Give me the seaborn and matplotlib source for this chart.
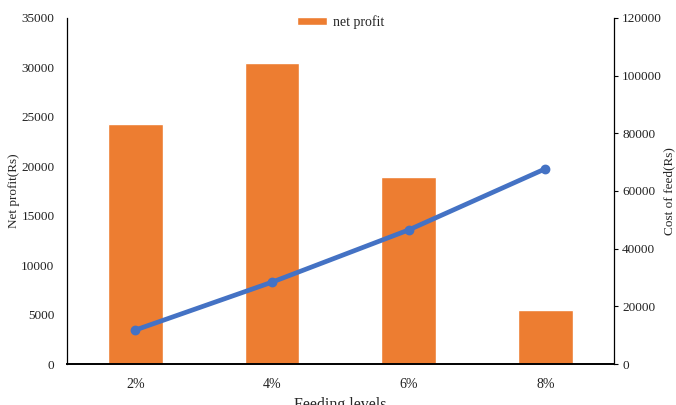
import pandas as pd
import matplotlib
matplotlib.use('Agg')
import matplotlib.pyplot as plt
import seaborn as sns

# Data
levels = ['2%', '4%', '6%', '8%']
net_profit = [24300, 30450, 18900, 5500]
feed_cost = [11800, 28400, 46500, 67700]

df = pd.DataFrame({'Feeding levels': levels, 'net profit': net_profit, 'cost': feed_cost})

sns.set_theme(style='white')
plt.rcParams['font.family'] = ['Liberation Serif', 'DejaVu Serif']

fig = plt.figure(figsize=(6.76, 4.05), dpi=100)
ax = fig.add_axes([0.099, 0.101, 0.809, 0.855])

sns.barplot(data=df, x='Feeding levels', y='net profit', color='#ED7D31',
            width=0.4, saturation=1, label='net profit', ax=ax)

ax2 = ax.twinx()
sns.pointplot(data=df, x='Feeding levels', y='cost', color='#4472C4',
              markers='o', markersize=4.5, linewidth=3.4, ax=ax2)

ax.set_xlim(-0.5, 3.5)
ax.set_ylim(0, 35000)
ax.set_yticks(range(0, 35001, 5000))
ax2.set_ylim(0, 120000)
ax2.set_yticks(range(0, 120001, 20000))

for a in (ax, ax2):
    for s in a.spines.values():
        s.set_visible(False)
ax.spines['left'].set_visible(True)
ax.spines['bottom'].set_visible(True)
ax2.spines['right'].set_visible(True)
ax.spines['left'].set_color('#000000')
ax.spines['left'].set_linewidth(0.9)
ax.spines['bottom'].set_color('#000000')
ax.spines['bottom'].set_linewidth(1.4)
ax2.spines['right'].set_color('#000000')
ax2.spines['right'].set_linewidth(0.9)

ax.tick_params(axis='y', length=0, pad=9, labelsize=9.5, colors='#222222')
ax.tick_params(axis='x', length=0, pad=10, labelsize=10, colors='#222222')
ax2.tick_params(axis='y', right=True, length=3, width=0.8,
                pad=3, labelsize=9.5, colors='#222222')
ax2.tick_params(axis='y', color='#000000')

ax.set_xlabel('Feeding levels', fontsize=11.5, labelpad=4)
ax.set_ylabel('Net profit(Rs)', fontsize=9.5, labelpad=1)
ax2.set_ylabel('Cost of feed(Rs)', fontsize=9.5, labelpad=1)

ax.legend(loc='upper center', bbox_to_anchor=(0.5, 1.045), frameon=False,
          fontsize=10, handlelength=2.2, handleheight=0.5, handletextpad=0.4)

fig.savefig('out.png', dpi=100)
